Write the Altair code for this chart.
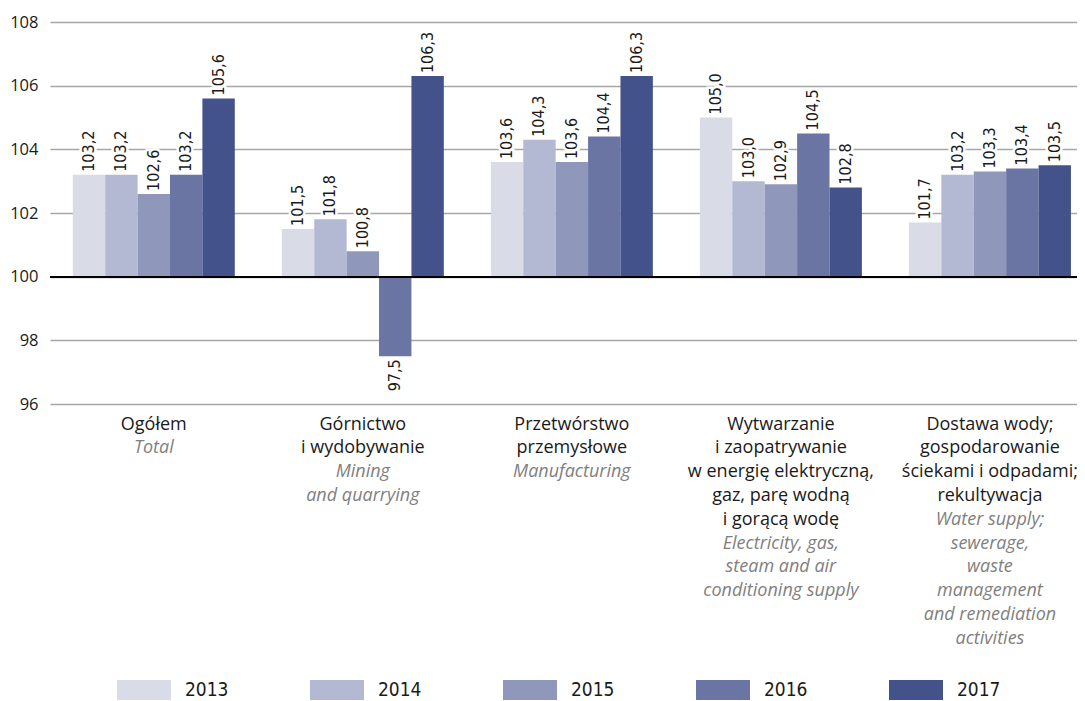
import json
import altair as alt
import pandas as pd

categories_pl = [
    "Ogółem",
    "Górnictwo\ni wydobywanie",
    "Przetwórstwo\nprzemysłowe",
    "Wytwarzanie\ni zaopatrywanie\nw energię elektryczną,\ngaz, parę wodną\ni gorącą wodę",
    "Dostawa wody;\ngospodarowanie\nściekami i odpadami;\nrekultywacja",
]
categories_en = [
    "Total",
    "Mining\nand quarrying",
    "Manufacturing",
    "Electricity, gas,\nsteam and air\nconditioning supply",
    "Water supply;\nsewerage,\nwaste\nmanagement\nand remediation\nactivities",
]
years = ["2013", "2014", "2015", "2016", "2017"]
values_2013 = [103.2, 101.5, 103.6, 105.0, 101.7]
values_2014 = [103.2, 101.8, 104.3, 103.0, 103.2]
values_2015 = [102.6, 100.8, 103.6, 102.9, 103.3]
values_2016 = [103.2, 97.5, 104.4, 104.5, 103.4]
values_2017 = [105.6, 106.3, 106.3, 102.8, 103.5]
colors = ["#d9dce7", "#b4b9d3", "#8f98bb", "#6a75a3", "#43528a"]
y_ticks = [96, 98, 100, 102, 104, 106, 108]

rows = []
for yr, vals in zip(years, [values_2013, values_2014, values_2015, values_2016, values_2017]):
    for c, v in zip(categories_pl, vals):
        rows.append({"cat": c, "year": yr, "value": v})
df = pd.DataFrame(rows)

FONT = "'Open Sans', Lato, sans-serif"
NARROW = "'Liberation Sans Narrow', 'DejaVu Sans Condensed', sans-serif"

pl_expr = "split(datum.value, '\\n')"
parts = []
for pl, en in zip(categories_pl, categories_en):
    arr = ["\u2800"] * len(pl.split("\n")) + en.split("\n")
    parts.append(f"datum.value == {json.dumps(pl, ensure_ascii=False)} ? {json.dumps(arr, ensure_ascii=False)} : ")
en_expr = "".join(parts) + "''"

x_scale = alt.Scale(domain=categories_pl, paddingInner=0.225, paddingOuter=0.069, align=0.79)
xoff = alt.XOffset("year:N", scale=alt.Scale(domain=years, paddingInner=0, paddingOuter=0))

common_axis = dict(title=None, orient="bottom", labelFont=FONT, labelFontSize=18,
                   labelLineHeight=23.8, labelPadding=11, labelAngle=0, labelOverlap=False,
                   ticks=False, domain=False, labelBaseline="top", labelLimit=0, grid=False)
axis_pl = alt.Axis(labelExpr=pl_expr, labelColor="#1a1a1a", **common_axis)
axis_en = alt.Axis(labelExpr=en_expr, labelColor="#808080", labelFontStyle="italic", **common_axis)

y_enc = alt.Y("value:Q", scale=alt.Scale(domain=[96, 108], zero=False, nice=False),
              axis=alt.Axis(title=None, values=y_ticks, grid=True, gridColor="#a6a6a6",
                            gridWidth=1.5, domain=False, ticks=False, labelFont=FONT,
                            labelFontSize=16.5, labelColor="#1a1a1a", labelPadding=12, format="d"))

base = alt.Chart(df)

bars = base.mark_bar().encode(
    x=alt.X("cat:N", scale=x_scale, axis=axis_pl),
    xOffset=xoff,
    y=y_enc,
    y2=alt.datum(100),
    color=alt.Color("year:N", scale=alt.Scale(domain=years, range=colors),
                    legend=alt.Legend(title=None, orient="none", legendX=84, legendY=658,
                                      direction="horizontal", columns=5,
                                      symbolType="M-2.7,-1H2.7V1H-2.7Z", symbolSize=400,
                                      symbolStrokeWidth=0, symbolOpacity=1,
                                      labelFont=NARROW, labelFontSize=19, labelColor="#1a1a1a",
                                      labelOffset=31, columnPadding=81, padding=0)),
)

baseline = alt.Chart(df).mark_rule(color="black", strokeWidth=1.5).encode(y=alt.datum(100))

labeled = base.transform_calculate(label="replace(format(datum.value, '.1f'), '.', ',')")
pos = labeled.transform_filter("datum.value >= 100")
neg = labeled.transform_filter("datum.value < 100")

txt_kw = dict(angle=270, baseline="middle", font=NARROW, fontSize=16)

halo_pos = pos.mark_text(align="left", dx=3, stroke="white", strokeWidth=5, color="white", **txt_kw).encode(
    x=alt.X("cat:N", scale=x_scale, axis=axis_en), xOffset=xoff, y=y_enc, text="label:N")
halo_neg = neg.mark_text(align="right", dx=-3, stroke="white", strokeWidth=5, color="white", **txt_kw).encode(
    x=alt.X("cat:N", scale=x_scale, axis=None), xOffset=xoff, y=y_enc, text="label:N")
text_pos = pos.mark_text(align="left", dx=3, color="#1a1a1a", **txt_kw).encode(
    x=alt.X("cat:N", scale=x_scale, axis=None), xOffset=xoff, y=y_enc, text="label:N")
text_neg = neg.mark_text(align="right", dx=-3, color="#1a1a1a", **txt_kw).encode(
    x=alt.X("cat:N", scale=x_scale, axis=None), xOffset=xoff, y=y_enc, text="label:N")

chart = alt.layer(bars, baseline, halo_pos, halo_neg, text_pos, text_neg).resolve_axis(
    x="independent"
).properties(
    width=1027, height=382,
    autosize=alt.AutoSizeParams(type="none"),
    padding={"left": 42, "top": 14, "right": 0, "bottom": 296},
).configure_view(stroke=None)

chart.save("out.html", embed_options={"renderer": "svg", "actions": False})
